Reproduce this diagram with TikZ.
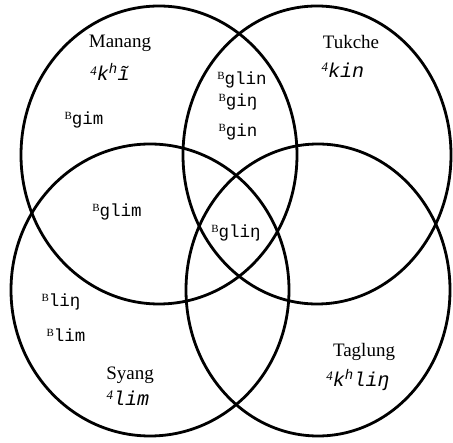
\documentclass[tikz,border=0pt]{standalone}
\usepackage{fontspec}
\setmainfont{Liberation Serif}
\setmonofont{Liberation Mono}
\usepackage{tikz}
\usetikzlibrary{positioning}

\newcommand{\tB}{\raisebox{.5ex}{\fontsize{11}{11}\selectfont\rmfamily B}}
\newcommand{\tF}{\raisebox{.55ex}{\fontsize{13}{13}\selectfont\rmfamily 4}}
\tikzset{
  ring/.style={line width=2.8pt,black},
  village/.style={inner sep=0pt,font=\fontsize{19}{19}\selectfont},
  form/.style={inner sep=0pt,font=\fontsize{17.5}{17.5}\selectfont\ttfamily},
  tone4/.style={inner sep=0pt,font=\fontsize{20}{20}\selectfont\ttfamily\itshape}
}

\begin{document}
\begin{tikzpicture}[x=1pt,y=-1pt]
\useasboundingbox (0,0) rectangle (453,443);
% the four dialect circles
\draw[ring] (159,155) ellipse [x radius=138,y radius=149];
\draw[ring] (317,155) ellipse [x radius=134,y radius=149];
\draw[ring] (150,290) ellipse [x radius=139,y radius=146];
\draw[ring] (318,290) ellipse [x radius=132,y radius=146];
% village names with their own form
\node[village] (manang) at (120,43) {Manang};
\node[tone4] (manangF) at (110,72) {\tF k\textsuperscript{h}ĩ};
\node[village] (tukche) at (351,42) {Tukche};
\node[tone4] (tukcheF) at (343,70) {\tF kin};
\node[village] (syang) at (130,375) {Syang};
\node[tone4] (syangF) at (128,398) {\tF lim};
\node[village] (taglung) at (364,352) {Taglung};
\node[tone4] (taglungF) at (358,380) {\tF k\textsuperscript{h}liŋ};
% forms in the overlaps
\node[form] (gim) at (84,120) {\tB gim};
\node[form] (glin) at (242,80) {\tB glin};
\node[form] (ging) at (238,102) {\tB giŋ};
\node[form] (gin) at (238,132) {\tB gin};
\node[form] (glim) at (117,212) {\tB glim};
\node[form] (gling) at (236,233) {\tB gliŋ};
\node[form] (ling) at (61,302) {\tB liŋ};
\node[form] (lim) at (66,335) {\tB lim};
\end{tikzpicture}
\end{document}
